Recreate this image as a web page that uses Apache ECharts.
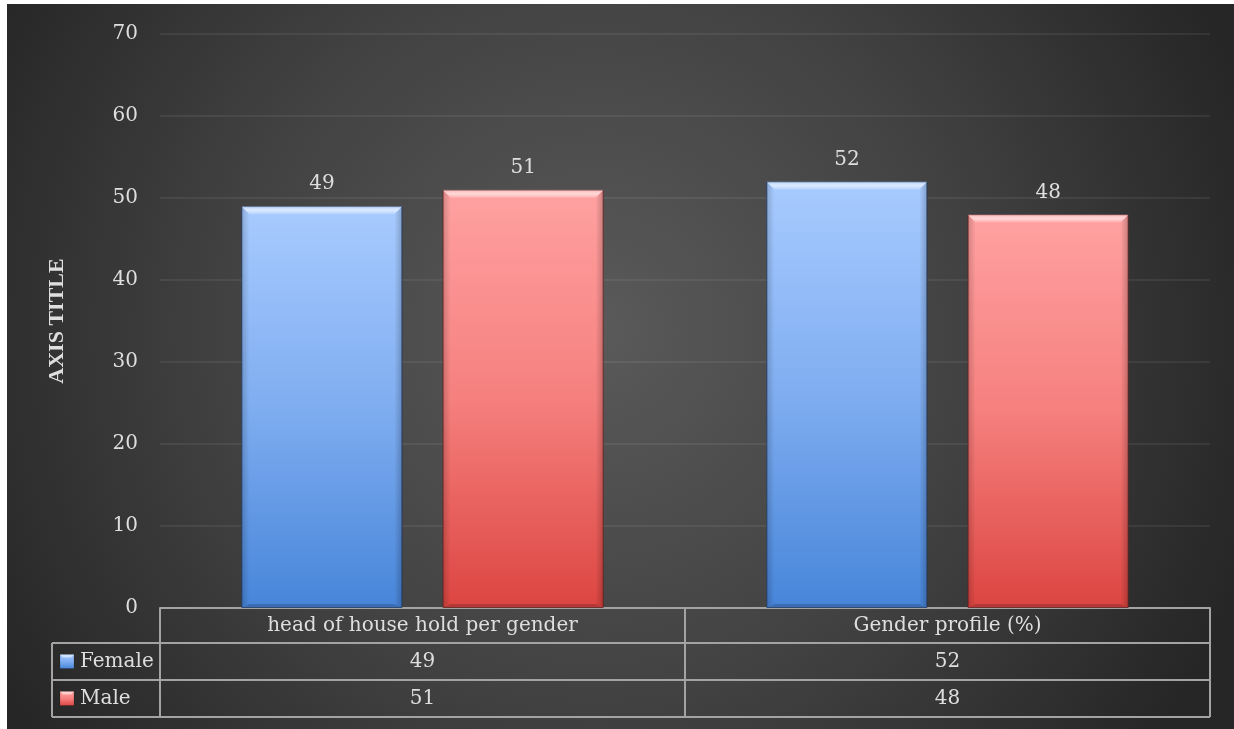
<!DOCTYPE html>
<html>
<head>
<meta charset="utf-8">
<script src="https://cdn.jsdelivr.net/npm/echarts@6/dist/echarts.min.js"></script>
<style>
html,body{margin:0;padding:0;background:#ffffff;}
#chart{position:absolute;left:7px;top:4px;width:1227px;height:725px;}
</style>
</head>
<body>
<div id="chart"></div>
<script>
const categories = ['head of house hold per gender', 'Gender profile (%)'];
const femaleValues = [49, 52];
const maleValues = [51, 48];
const seriesNames = ['Female', 'Male'];
const yTicks = { min: 0, max: 70, interval: 10 };
const axisTitle = 'AXIS TITLE';

const FONT = 'DejaVu Serif';
const TXT = '#dedede';
const LINE = '#a3a3a3';
const CAT_GAP = 0.31, BAR_GAP = 0.25;

const blueGrad = new echarts.graphic.LinearGradient(0, 0, 0, 1, [
  { offset: 0, color: '#a8cbff' },
  { offset: 0.5, color: '#7fadf0' },
  { offset: 1, color: '#4785d9' }
]);
const redGrad = new echarts.graphic.LinearGradient(0, 0, 0, 1, [
  { offset: 0, color: '#ffa1a1' },
  { offset: 0.5, color: '#f5807e' },
  { offset: 1, color: '#dc4541' }
]);

// bevel overlay drawn through the category/value coordinate system
function bevel(seriesIdx) {
  return function (params, api) {
    const cat = api.value(0), val = api.value(1);
    const top = api.coord([cat, val]);
    const base = api.coord([cat, 0]);
    const band = api.size([1, 0])[0];
    const bw = band * (1 - CAT_GAP) / (2 + BAR_GAP);
    const off = (bw + bw * BAR_GAP) / 2;
    const cx = top[0] + (seriesIdx === 0 ? -off : off);
    const l = cx - bw / 2, r = cx + bw / 2, t = top[1], b = base[1];
    const d = 8;
    return {
      type: 'group',
      children: [
        { type: 'polygon', shape: { points: [[l, t], [r, t], [r - d, t + d], [l + d, t + d]] },
          style: { fill: new echarts.graphic.LinearGradient(0, 0, 0, 1, [
            { offset: 0, color: 'rgba(255,255,255,0.25)' },
            { offset: 0.5, color: 'rgba(255,255,255,0.6)' },
            { offset: 1, color: 'rgba(255,255,255,0.15)' }]) } },
        { type: 'polygon', shape: { points: [[l, t], [l + d, t + d], [l + d, b - 4], [l, b]] },
          style: { fill: new echarts.graphic.LinearGradient(0, 0, 1, 0, [
            { offset: 0, color: 'rgba(0,0,0,0.18)' },
            { offset: 1, color: 'rgba(0,0,0,0)' }]) } },
        { type: 'polygon', shape: { points: [[r, t], [r - d, t + d], [r - d, b - 4], [r, b]] },
          style: { fill: new echarts.graphic.LinearGradient(0, 0, 1, 0, [
            { offset: 0, color: 'rgba(0,0,0,0)' },
            { offset: 1, color: 'rgba(0,0,0,0.22)' }]) } },
        { type: 'polygon', shape: { points: [[l, b], [l + d, b - 4], [r - d, b - 4], [r, b]] },
          style: { fill: 'rgba(0,0,0,0.18)' } }
      ]
    };
  };
}

const labelStyle = { show: true, position: 'top', distance: 12, color: TXT, fontFamily: FONT, fontSize: 20 };

const chart = echarts.init(document.getElementById('chart'));
chart.setOption({
  backgroundColor: {
    type: 'radial', x: 0.48, y: 0.45, r: 0.95,
    colorStops: [
      { offset: 0, color: '#5a5a5a' },
      { offset: 0.55, color: '#414141' },
      { offset: 1, color: '#262626' }
    ]
  },
  animation: false,
  grid: { left: 153, right: 24, top: 30, bottom: 121, containLabel: false },
  xAxis: {
    type: 'category',
    data: categories,
    axisLine: { show: true, lineStyle: { color: LINE, width: 2 } },
    axisTick: { show: true, length: 109, lineStyle: { color: LINE, width: 2 } },
    axisLabel: { color: TXT, fontFamily: FONT, fontSize: 20, margin: 8 }
  },
  yAxis: {
    type: 'value',
    min: yTicks.min, max: yTicks.max, interval: yTicks.interval,
    name: axisTitle,
    nameLocation: 'middle',
    nameGap: 92,
    nameTextStyle: { color: TXT, fontFamily: 'Liberation Serif', fontWeight: 'bold', fontSize: 22 },
    axisLine: { show: false },
    axisTick: { show: false },
    axisLabel: { color: TXT, fontFamily: FONT, fontSize: 20, margin: 22 },
    splitLine: { lineStyle: { color: 'rgba(255,255,255,0.09)', width: 1.5 } }
  },
  series: [
    {
      name: seriesNames[0], type: 'bar', data: femaleValues,
      barCategoryGap: (CAT_GAP * 100) + '%', barGap: (BAR_GAP * 100) + '%',
      itemStyle: { color: blueGrad, borderColor: 'rgba(40,70,120,0.7)', borderWidth: 1 },
      label: labelStyle
    },
    {
      name: seriesNames[1], type: 'bar', data: maleValues,
      barCategoryGap: (CAT_GAP * 100) + '%', barGap: (BAR_GAP * 100) + '%',
      itemStyle: { color: redGrad, borderColor: 'rgba(120,40,40,0.7)', borderWidth: 1 },
      label: labelStyle
    },
    { type: 'custom', silent: true, z: 5, renderItem: bevel(0), data: femaleValues.map((v, i) => [i, v]) },
    { type: 'custom', silent: true, z: 5, renderItem: bevel(1), data: maleValues.map((v, i) => [i, v]) }
  ]
});

// Data table below the axis
const rect = chart.getModel().getComponent('grid').coordinateSystem.getRect();
const x1 = rect.x + rect.width, yTop = rect.y + rect.height;
const headerH = 35, rowH = 37;
const leftX = 45;
const rows = [
  { name: seriesNames[0], values: femaleValues, grad: blueGrad },
  { name: seriesNames[1], values: maleValues, grad: redGrad }
];
const g = [];
const lineStyle = { stroke: LINE, lineWidth: 2 };
const y = yTop + headerH;
g.push({ type: 'line', shape: { x1: leftX, y1: y, x2: x1, y2: y }, style: lineStyle, silent: true });
g.push({ type: 'line', shape: { x1: leftX, y1: y, x2: leftX, y2: y + rowH * rows.length }, style: lineStyle, silent: true });
rows.forEach((r, i) => {
  const ry = y + rowH * i;
  const rb = ry + rowH;
  g.push({ type: 'line', shape: { x1: leftX, y1: rb, x2: x1, y2: rb }, style: lineStyle, silent: true });
  const cy = ry + rowH / 2;
  g.push({ type: 'rect', shape: { x: leftX + 8, y: cy - 7, width: 14, height: 14 }, style: { fill: r.grad, stroke: 'rgba(0,0,0,0.3)', lineWidth: 0.5 }, silent: true });
  g.push({ type: 'polygon', shape: { points: [[leftX + 8, cy - 7], [leftX + 22, cy - 7], [leftX + 19, cy - 4], [leftX + 11, cy - 4]] }, style: { fill: 'rgba(255,255,255,0.5)' }, silent: true });
  g.push({ type: 'text', style: { text: r.name, x: leftX + 28, y: cy, verticalAlign: 'middle', align: 'left', fill: TXT, font: '20px "' + FONT + '"' }, silent: true });
  r.values.forEach((v, j) => {
    const cx = chart.convertToPixel({ xAxisIndex: 0 }, categories[j]);
    g.push({ type: 'text', style: { text: String(v), x: cx, y: cy, verticalAlign: 'middle', align: 'center', fill: TXT, font: '20px "' + FONT + '"' }, silent: true });
  });
});
chart.setOption({ graphic: g });
</script>
</body>
</html>
